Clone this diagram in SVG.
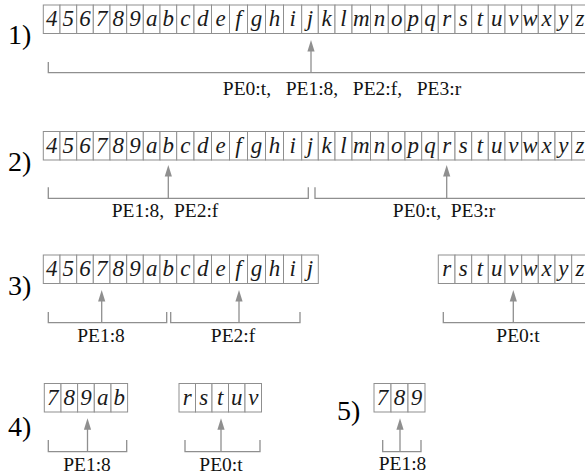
<svg xmlns="http://www.w3.org/2000/svg" xmlns:xlink="http://www.w3.org/1999/xlink" width="585" height="475" viewBox="0 0 585 475">
<style>
.c{fill:#fff;stroke:#8f8f8f;stroke-width:1}
.l{font-style:italic;font-size:23px;fill:#1a1a1a;text-anchor:middle}
.n{font-size:28px;fill:#000}
.p{font-size:19.5px;fill:#111;text-anchor:middle;white-space:pre}
.br{fill:none;stroke:#8f8f8f;stroke-width:1.3}
.ar{stroke:#8f8f8f;stroke-width:1.3;marker-end:url(#ah)}
</style>
<defs>
<marker id="ah" markerUnits="userSpaceOnUse" markerWidth="8" markerHeight="12" viewBox="0 0 8 12" refX="4" refY="6" orient="0">
<path d="M4,0 L7.6,11.5 L0.4,11.5 Z" fill="#8f8f8f"/>
</marker>
<g id="segA">
<rect class="c" x="43.3" y="0" width="16.7" height="28.5"/><text class="l" font-family="Liberation Serif" x="51.65" y="21">4</text>
<rect class="c" x="60" y="0" width="16.7" height="28.5"/><text class="l" font-family="Liberation Serif" x="68.35" y="21">5</text>
<rect class="c" x="76.7" y="0" width="16.6" height="28.5"/><text class="l" font-family="Liberation Serif" x="85" y="21">6</text>
<rect class="c" x="93.3" y="0" width="16.7" height="28.5"/><text class="l" font-family="Liberation Serif" x="101.65" y="21">7</text>
<rect class="c" x="110" y="0" width="16.7" height="28.5"/><text class="l" font-family="Liberation Serif" x="118.35" y="21">8</text>
<rect class="c" x="126.7" y="0" width="16.6" height="28.5"/><text class="l" font-family="Liberation Serif" x="135" y="21">9</text>
<rect class="c" x="143.3" y="0" width="16.7" height="28.5"/><text class="l" font-family="Liberation Serif" x="151.65" y="21">a</text>
<rect class="c" x="160" y="0" width="16.7" height="28.5"/><text class="l" font-family="Liberation Serif" x="168.35" y="21">b</text>
<rect class="c" x="176.7" y="0" width="17.3" height="28.5"/><text class="l" font-family="Liberation Serif" x="185.35" y="21">c</text>
<rect class="c" x="194" y="0" width="17.5" height="28.5"/><text class="l" font-family="Liberation Serif" x="202.75" y="21">d</text>
<rect class="c" x="211.5" y="0" width="18" height="28.5"/><text class="l" font-family="Liberation Serif" x="220.5" y="21">e</text>
<rect class="c" x="229.5" y="0" width="18" height="28.5"/><text class="l" font-family="Liberation Serif" x="238.5" y="21">f</text>
<rect class="c" x="247.5" y="0" width="18" height="28.5"/><text class="l" font-family="Liberation Serif" x="256.5" y="21">g</text>
<rect class="c" x="265.5" y="0" width="18" height="28.5"/><text class="l" font-family="Liberation Serif" x="274.5" y="21">h</text>
<rect class="c" x="283.5" y="0" width="18.2" height="28.5"/><text class="l" font-family="Liberation Serif" x="292.6" y="21">i</text>
<rect class="c" x="301.7" y="0" width="16.6" height="28.5"/><text class="l" font-family="Liberation Serif" x="310" y="21">j</text>
</g>
<g id="segB">
<rect class="c" x="318.3" y="0" width="16.7" height="28.5"/><text class="l" font-family="Liberation Serif" x="326.65" y="21">k</text>
<rect class="c" x="335" y="0" width="17" height="28.5"/><text class="l" font-family="Liberation Serif" x="343.5" y="21">l</text>
<rect class="c" x="352" y="0" width="18.5" height="28.5"/><text class="l" font-family="Liberation Serif" x="361.25" y="21">m</text>
<rect class="c" x="370.5" y="0" width="17.8" height="28.5"/><text class="l" font-family="Liberation Serif" x="379.4" y="21">n</text>
<rect class="c" x="388.3" y="0" width="16.7" height="28.5"/><text class="l" font-family="Liberation Serif" x="396.65" y="21">o</text>
<rect class="c" x="405" y="0" width="16.7" height="28.5"/><text class="l" font-family="Liberation Serif" x="413.35" y="21">p</text>
<rect class="c" x="421.7" y="0" width="16.6" height="28.5"/><text class="l" font-family="Liberation Serif" x="430" y="21">q</text>
</g>
<g id="segC">
<rect class="c" x="438.3" y="0" width="16.7" height="28.5"/><text class="l" font-family="Liberation Serif" x="446.65" y="21">r</text>
<rect class="c" x="455" y="0" width="16.7" height="28.5"/><text class="l" font-family="Liberation Serif" x="463.35" y="21">s</text>
<rect class="c" x="471.7" y="0" width="16.6" height="28.5"/><text class="l" font-family="Liberation Serif" x="480" y="21">t</text>
<rect class="c" x="488.3" y="0" width="16.7" height="28.5"/><text class="l" font-family="Liberation Serif" x="496.65" y="21">u</text>
<rect class="c" x="505" y="0" width="16.7" height="28.5"/><text class="l" font-family="Liberation Serif" x="513.35" y="21">v</text>
<rect class="c" x="521.7" y="0" width="16.6" height="28.5"/><text class="l" font-family="Liberation Serif" x="530" y="21">w</text>
<rect class="c" x="538.3" y="0" width="16.7" height="28.5"/><text class="l" font-family="Liberation Serif" x="546.65" y="21">x</text>
<rect class="c" x="555" y="0" width="16.7" height="28.5"/><text class="l" font-family="Liberation Serif" x="563.35" y="21">y</text>
<rect class="c" x="571.7" y="0" width="16.6" height="28.5"/><text class="l" font-family="Liberation Serif" x="580" y="21">z</text>
</g>
</defs>

<g id="step1">
<text class="n" font-family="Liberation Serif" x="8" y="44">1)</text>
<g transform="translate(0,5)"><use xlink:href="#segA"/><use xlink:href="#segB"/><use xlink:href="#segC"/></g>
<text class="p" font-family="Liberation Serif" x="342" y="95">PE0:t,   PE1:8,   PE2:f,   PE3:r</text>
</g>

<g id="step2">
<text class="n" font-family="Liberation Serif" x="8" y="171">2)</text>
<g transform="translate(0,131.5)"><use xlink:href="#segA"/><use xlink:href="#segB"/><use xlink:href="#segC"/></g>
<text class="p" font-family="Liberation Serif" x="165" y="217">PE1:8,  PE2:f</text>
<text class="p" font-family="Liberation Serif" x="444" y="217">PE0:t,  PE3:r</text>
</g>

<g id="step3">
<text class="n" font-family="Liberation Serif" x="8" y="295">3)</text>
<g transform="translate(0,255)"><use xlink:href="#segA"/><use xlink:href="#segC"/></g>
<text class="p" font-family="Liberation Serif" x="101" y="342">PE1:8</text>
<text class="p" font-family="Liberation Serif" x="233" y="342">PE2:f</text>
<text class="p" font-family="Liberation Serif" x="518" y="342">PE0:t</text>
</g>

<g id="step4">
<text class="n" font-family="Liberation Serif" x="8" y="436">4)</text>
<g transform="translate(0,383.5)">
<rect class="c" x="44.3" y="0" width="16.7" height="28.5"/><text class="l" font-family="Liberation Serif" x="52.65" y="21">7</text>
<rect class="c" x="61" y="0" width="16.6" height="28.5"/><text class="l" font-family="Liberation Serif" x="69.3" y="21">8</text>
<rect class="c" x="77.6" y="0" width="16.7" height="28.5"/><text class="l" font-family="Liberation Serif" x="85.95" y="21">9</text>
<rect class="c" x="94.3" y="0" width="16.7" height="28.5"/><text class="l" font-family="Liberation Serif" x="102.65" y="21">a</text>
<rect class="c" x="111" y="0" width="16.6" height="28.5"/><text class="l" font-family="Liberation Serif" x="119.3" y="21">b</text>
<rect class="c" x="179" y="0" width="16.5" height="28.5"/><text class="l" font-family="Liberation Serif" x="187.25" y="21">r</text>
<rect class="c" x="195.5" y="0" width="16.5" height="28.5"/><text class="l" font-family="Liberation Serif" x="203.75" y="21">s</text>
<rect class="c" x="212" y="0" width="16.5" height="28.5"/><text class="l" font-family="Liberation Serif" x="220.25" y="21">t</text>
<rect class="c" x="228.5" y="0" width="16.5" height="28.5"/><text class="l" font-family="Liberation Serif" x="236.75" y="21">u</text>
<rect class="c" x="245" y="0" width="16.5" height="28.5"/><text class="l" font-family="Liberation Serif" x="253.25" y="21">v</text>
</g>
<text class="p" font-family="Liberation Serif" x="87" y="471">PE1:8</text>
<text class="p" font-family="Liberation Serif" x="221" y="471">PE0:t</text>
</g>

<g id="step5">
<text class="n" font-family="Liberation Serif" x="337" y="420">5)</text>
<g transform="translate(0,383.5)">
<rect class="c" x="374" y="0" width="17" height="28.5"/><text class="l" font-family="Liberation Serif" x="382.5" y="21">7</text>
<rect class="c" x="391" y="0" width="17" height="28.5"/><text class="l" font-family="Liberation Serif" x="399.5" y="21">8</text>
<rect class="c" x="408" y="0" width="17" height="28.5"/><text class="l" font-family="Liberation Serif" x="416.5" y="21">9</text>
</g>
<text class="p" font-family="Liberation Serif" x="402.5" y="470">PE1:8</text>
</g>

<g id="connectors">
<path class="br" d="M48.3,62 V72.7 H590"/>
<line class="ar" x1="311" y1="72.7" x2="311" y2="46"/>

<path class="br" d="M48.3,187.3 V198.3 H308.3 V187.3"/>
<path class="br" d="M315,187.3 V198.3 H590"/>
<line class="ar" x1="168.3" y1="198.3" x2="168.3" y2="171"/>
<line class="ar" x1="446.7" y1="198.3" x2="446.7" y2="171"/>

<path class="br" d="M48.3,312 V322.7 H166.7 V312"/>
<path class="br" d="M170.7,312 V322.7 H300 V312"/>
<path class="br" d="M443.3,312 V322.7 H590"/>
<line class="ar" x1="101.7" y1="322.7" x2="101.7" y2="296"/>
<line class="ar" x1="239" y1="322.7" x2="239" y2="296"/>
<line class="ar" x1="513.3" y1="322.7" x2="513.3" y2="296"/>

<path class="br" d="M48.3,440 V451.7 H126.7 V440"/>
<path class="br" d="M185,440 V451.7 H260 V440"/>
<path class="br" d="M382.7,440 V451.7 H421 V440"/>
<line class="ar" x1="87.5" y1="451.7" x2="87.5" y2="424.3"/>
<line class="ar" x1="221" y1="451.7" x2="221" y2="424.3"/>
<line class="ar" x1="400" y1="451.7" x2="400" y2="424.3"/>
</g>
</svg>
